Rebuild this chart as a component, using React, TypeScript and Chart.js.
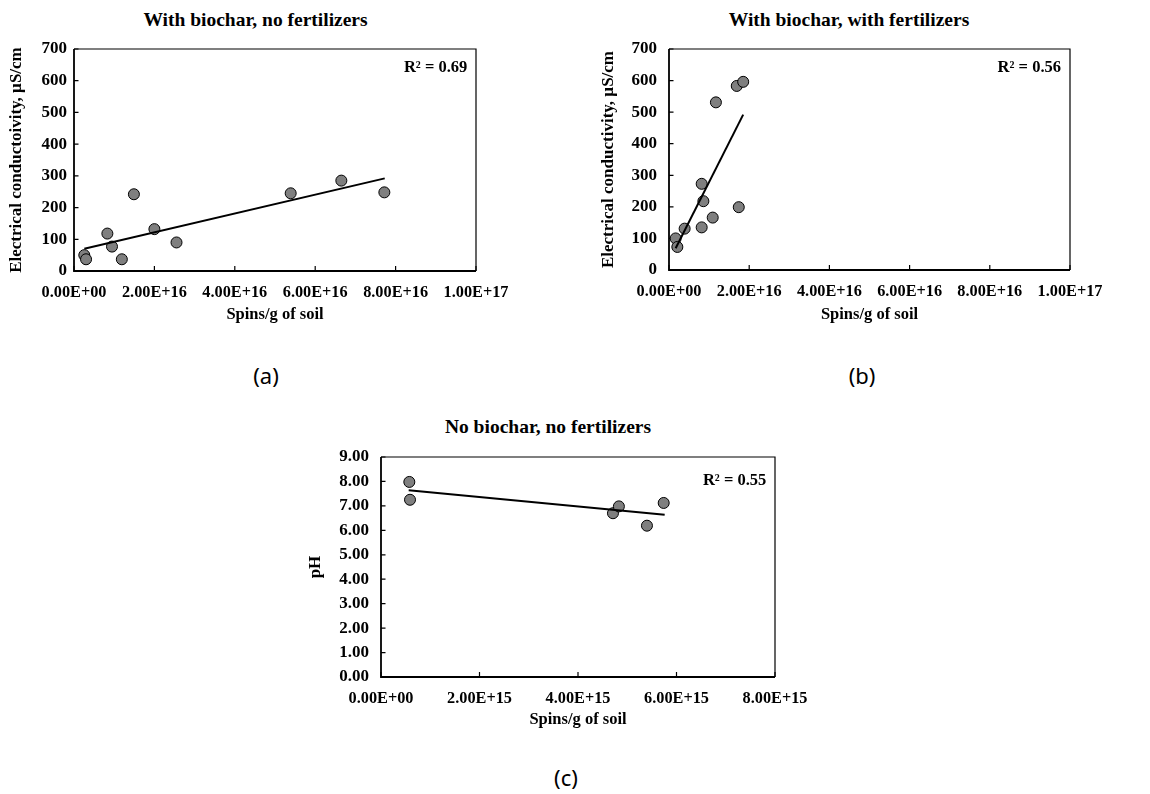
import React, { useEffect, useRef } from "react";
import { Chart, registerables } from "chart.js";

Chart.register(...registerables);

// ---------- Data ----------
// (a) With biochar, no fertilizers
const aSpins = [2.56e15, 3.0e15, 8.3e15, 9.45e15, 1.19e16, 1.49e16, 2.0e16, 2.55e16, 5.39e16, 6.65e16, 7.72e16];
const aEC = [50, 37, 118, 77, 37, 242, 132, 90, 245, 285, 248];
const aTrendSpins = [2.56e15, 7.73e16];
const aTrendEC = [70, 292];
const aR2 = "R² = 0.69";

// (b) With biochar, with fertilizers
const bSpins = [1.66e15, 2.08e15, 3.9e15, 8.15e15, 8.57e15, 8.15e15, 1.09e16, 1.17e16, 1.69e16, 1.85e16, 1.74e16];
const bEC = [100, 73, 131, 273, 218, 135, 166, 531, 583, 596, 199];
const bTrendSpins = [1.66e15, 1.85e16];
const bTrendEC = [69, 492];
const bR2 = "R² = 0.56";

// (c) No biochar, no fertilizers
const cSpins = [5.75e14, 5.89e14, 4.71e15, 4.83e15, 5.4e15, 5.74e15];
const cPH = [7.98, 7.25, 6.7, 6.98, 6.19, 7.12];
const cTrendSpins = [5.62e14, 5.76e15];
const cTrendPH = [7.64, 6.64];
const cR2 = "R² = 0.55";

// Tick values
const spinTicksAB = [0, 2e16, 4e16, 6e16, 8e16, 1e17];
const spinTicksC = [0, 2e15, 4e15, 6e15, 8e15];
const ecTicks = [0, 100, 200, 300, 400, 500, 600, 700];
const phTicks = [0, 1, 2, 3, 4, 5, 6, 7, 8, 9];

const FONT = '"Liberation Serif", "Times New Roman", serif';

function fmtExp(v: number): string {
  const s = Number(v).toExponential(2).toUpperCase();
  return s.replace(/E([+-])(\d)$/, "E$10$2");
}

function pairs(xs: number[], ys: number[]) {
  return xs.map((x, i) => ({ x, y: ys[i] }));
}

type PanelProps = {
  left: number;
  top: number;
  width: number;
  height: number;
  plot: { l: number; t: number; r: number; b: number };
  xs: number[];
  ys: number[];
  txs: number[];
  tys: number[];
  xTicks: number[];
  yTicks: number[];
  yFmt: (v: number) => string;
  yTitle: string;
  yTitlePad: number;
  yTickPad: number;
  xTitlePad: number;
  r2: string;
  r2Dx: number;
  r2Dy: number;
};

const framePlugin = {
  id: "frameTicks",
  beforeDatasetsDraw(chart: any) {
    const { ctx, chartArea } = chart;
    const { left, top, right, bottom } = chartArea;
    ctx.save();
    ctx.strokeStyle = "#000";
    // top & right (thin)
    ctx.lineWidth = 1.2;
    ctx.beginPath();
    ctx.moveTo(left, top);
    ctx.lineTo(right, top);
    ctx.lineTo(right, bottom);
    ctx.stroke();
    // left & bottom (axes)
    ctx.lineWidth = 1.8;
    ctx.beginPath();
    ctx.moveTo(left, top);
    ctx.lineTo(left, bottom);
    ctx.lineTo(right, bottom);
    ctx.stroke();
    // inner ticks
    ctx.lineWidth = 1.2;
    const xs = chart.scales.x;
    const ys = chart.scales.y;
    ctx.beginPath();
    xs.ticks.forEach((t: any) => {
      const px = xs.getPixelForValue(t.value);
      ctx.moveTo(px, bottom);
      ctx.lineTo(px, bottom - 5);
    });
    ys.ticks.forEach((t: any) => {
      const py = ys.getPixelForValue(t.value);
      ctx.moveTo(left, py);
      ctx.lineTo(left + 4.5, py);
    });
    ctx.stroke();
    ctx.restore();
  },
  afterDraw(chart: any) {
    const opts = chart.options.plugins.frameTicks || {};
    if (!opts.text) return;
    const { ctx, chartArea } = chart;
    ctx.save();
    ctx.fillStyle = "#000";
    ctx.font = `bold 16.5px ${FONT}`;
    ctx.textAlign = "right";
    ctx.textBaseline = "alphabetic";
    ctx.fillText(opts.text, chartArea.right - opts.dx, chartArea.top + opts.dy);
    ctx.restore();
  },
};

function Panel(p: PanelProps) {
  const ref = useRef<HTMLCanvasElement | null>(null);
  useEffect(() => {
    if (!ref.current) return;
    const xTickFont = { family: FONT, weight: "bold" as const, size: 16.3 };
    const yTickFont = { family: FONT, weight: "bold" as const, size: 17 };
    const chart = new Chart(ref.current, {
      type: "scatter",
      data: {
        datasets: [
          {
            type: "line",
            data: pairs(p.txs, p.tys),
            borderColor: "#000",
            borderWidth: 2,
            pointRadius: 0,
            showLine: true,
            fill: false,
          } as any,
          {
            type: "scatter",
            data: pairs(p.xs, p.ys),
            backgroundColor: "#7f7f7f",
            borderColor: "#000",
            borderWidth: 1,
            pointRadius: 5.5,
          },
        ],
      },
      options: {
        animation: false,
        responsive: false,
        maintainAspectRatio: false,
        events: [],
        layout: {
          padding: { left: 0, top: p.plot.t, right: p.width - p.plot.r, bottom: 0 },
        },
        plugins: {
          legend: { display: false },
          tooltip: { enabled: false },
          title: { display: false },
          frameTicks: { text: p.r2, dx: p.r2Dx, dy: p.r2Dy },
        } as any,
        scales: {
          x: {
            type: "linear",
            min: p.xTicks[0],
            max: p.xTicks[p.xTicks.length - 1],
            afterBuildTicks: (s: any) => {
              s.ticks = p.xTicks.map((v) => ({ value: v }));
            },
            afterFit: (s: any) => {
              s.height = p.height - p.plot.b;
            },
            grid: { display: false, drawTicks: false },
            border: { display: false },
            ticks: {
              color: "#000",
              font: xTickFont,
              padding: 12,
              maxRotation: 0,
              autoSkip: false,
              callback: (v: any) => fmtExp(Number(v)),
            },
            title: {
              display: true,
              text: "Spins/g of soil",
              color: "#000",
              font: { family: FONT, weight: "bold", size: 16.5 },
              padding: { top: 0, bottom: p.xTitlePad },
            },
          },
          y: {
            type: "linear",
            min: p.yTicks[0],
            max: p.yTicks[p.yTicks.length - 1],
            afterBuildTicks: (s: any) => {
              s.ticks = p.yTicks.map((v) => ({ value: v }));
            },
            afterFit: (s: any) => {
              s.width = p.plot.l;
            },
            grid: { display: false, drawTicks: false },
            border: { display: false },
            ticks: {
              color: "#000",
              font: yTickFont,
              padding: p.yTickPad,
              autoSkip: false,
              callback: (v: any) => p.yFmt(Number(v)),
            },
            title: {
              display: true,
              text: p.yTitle,
              color: "#000",
              font: { family: FONT, weight: "bold", size: 17 },
              padding: { top: p.yTitlePad, bottom: 0 },
            },
          },
        },
      },
      plugins: [framePlugin as any],
    });
    return () => chart.destroy();
  }, []);
  return (
    <canvas
      ref={ref}
      width={p.width}
      height={p.height}
      style={{ position: "absolute", left: p.left, top: p.top, width: p.width, height: p.height }}
    />
  );
}

function Label(props: { text: string; cx: number; top: number; size: number; family: string; bold?: boolean }) {
  return (
    <div
      style={{
        position: "absolute",
        left: props.cx - 250,
        width: 500,
        top: props.top,
        textAlign: "center",
        fontFamily: props.family,
        fontWeight: props.bold ? "bold" : "normal",
        fontSize: props.size,
        lineHeight: `${props.size}px`,
        color: "#000",
        whiteSpace: "nowrap",
      }}
    >
      {props.text}
    </div>
  );
}

export default function App() {
  const capFont = '"Noto Sans", "DejaVu Sans", sans-serif';
  return (
    <div style={{ position: "absolute", left: 0, top: 0, width: 1150, height: 794, background: "#fff", overflow: "hidden" }}>
      <Label text="With biochar, no fertilizers" cx={255.5} top={10} size={19.5} family={FONT} bold />
      <Label text="With biochar, with fertilizers" cx={849} top={9.5} size={19.5} family={FONT} bold />
      <Label text="No biochar, no fertilizers" cx={548} top={417} size={19.5} family={FONT} bold />

      <Panel
        left={0}
        top={0}
        width={560}
        height={340}
        plot={{ l: 74, t: 49, r: 476, b: 271 }}
        xs={aSpins}
        ys={aEC}
        txs={aTrendSpins}
        tys={aTrendEC}
        xTicks={spinTicksAB}
        yTicks={ecTicks}
        yFmt={(v) => String(v)}
        yTitle="Electrical conductoivity, µS/cm"
        yTitlePad={6.5}
        yTickPad={7}
        xTitlePad={15.5}
        r2={aR2}
        r2Dx={8.7}
        r2Dy={23}
      />
      <Panel
        left={590}
        top={0}
        width={560}
        height={340}
        plot={{ l: 79, t: 49, r: 480, b: 270 }}
        xs={bSpins}
        ys={bEC}
        txs={bTrendSpins}
        tys={bTrendEC}
        xTicks={spinTicksAB}
        yTicks={ecTicks}
        yFmt={(v) => String(v)}
        yTitle="Electrical conductivity, µS/cm"
        yTitlePad={8.8}
        yTickPad={12}
        xTitlePad={15.5}
        r2={bR2}
        r2Dx={9}
        r2Dy={23}
      />
      <Panel
        left={300}
        top={400}
        width={560}
        height={340}
        plot={{ l: 81, t: 57, r: 475, b: 277 }}
        xs={cSpins}
        ys={cPH}
        txs={cTrendSpins}
        tys={cTrendPH}
        xTicks={spinTicksC}
        yTicks={phTicks}
        yFmt={(v) => v.toFixed(2)}
        yTitle="pH"
        yTitlePad={5.8}
        yTickPad={12}
        xTitlePad={10}
        r2={cR2}
        r2Dx={8.7}
        r2Dy={28.4}
      />

      <Label text="(a)" cx={266} top={364} size={22} family={capFont} />
      <Label text="(b)" cx={862} top={364} size={22} family={capFont} />
      <Label text="(c)" cx={566} top={766} size={22} family={capFont} />
    </div>
  );
}
